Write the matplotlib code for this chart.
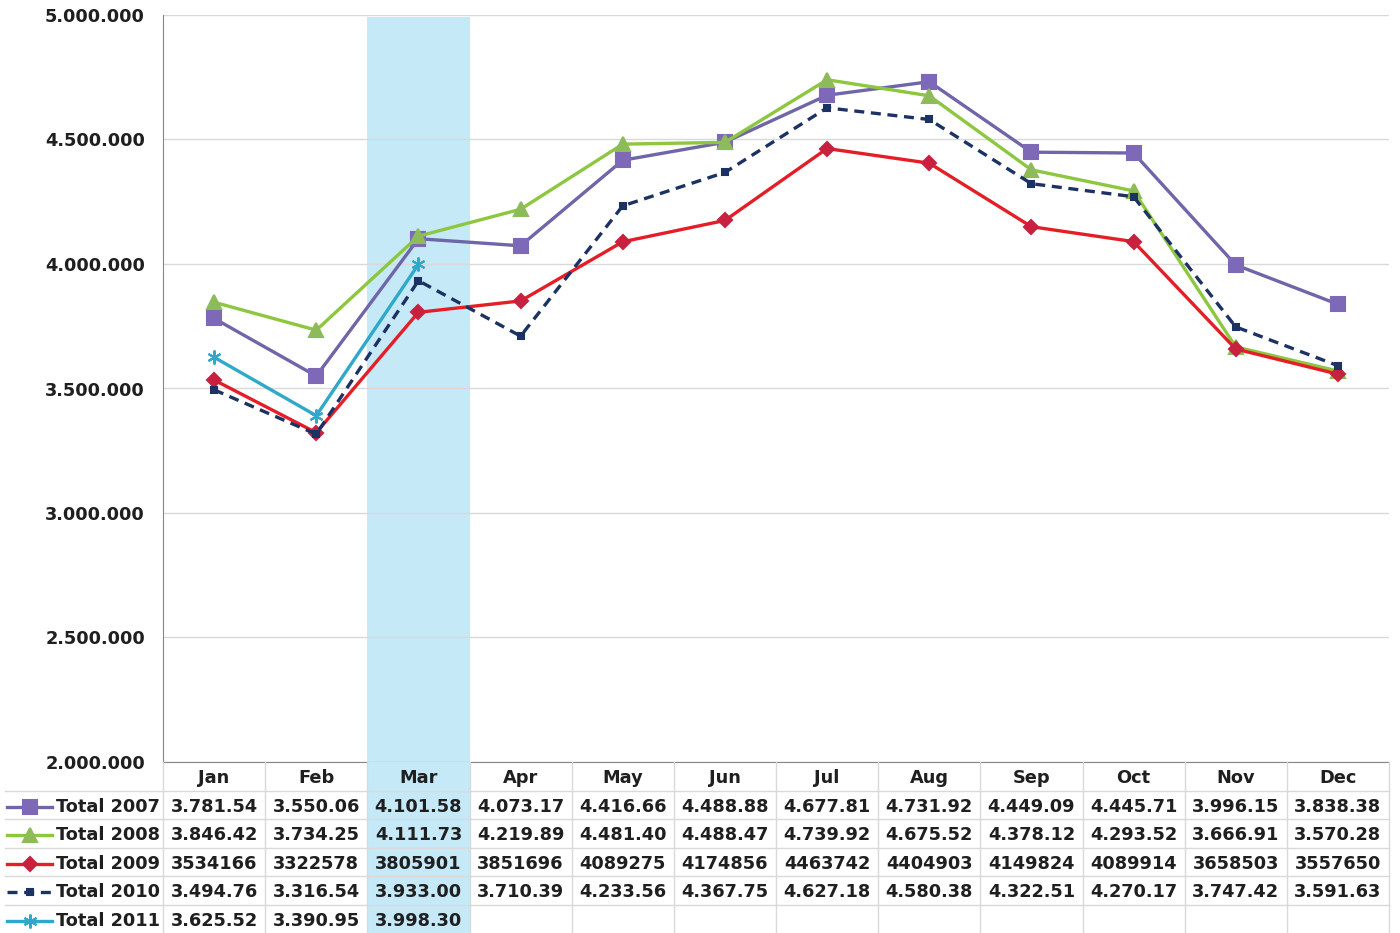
import matplotlib.pyplot as plt
from matplotlib.ticker import FuncFormatter

months = ['Jan', 'Feb', 'Mar', 'Apr', 'May', 'Jun', 'Jul', 'Aug', 'Sep', 'Oct', 'Nov', 'Dec']
series_names = ['Total 2007', 'Total 2008', 'Total 2009', 'Total 2010', 'Total 2011']

total_2007 = [3781540, 3550060, 4101580, 4073170, 4416660, 4488880,
              4677810, 4731920, 4449090, 4445710, 3996150, 3838380]
total_2008 = [3846420, 3734250, 4111730, 4219890, 4481400, 4488470,
              4739920, 4675520, 4378120, 4293520, 3666910, 3570280]
total_2009 = [3534166, 3322578, 3805901, 3851696, 4089275, 4174856,
              4463742, 4404903, 4149824, 4089914, 3658503, 3557650]
total_2010 = [3494760, 3316540, 3933000, 3710390, 4233560, 4367750,
              4627180, 4580380, 4322510, 4270170, 3747420, 3591630]
total_2011 = [3625520, 3390950, 3998300]

# table text exactly as shown in the source
table_rows = [
    ['3.781.54', '3.550.06', '4.101.58', '4.073.17', '4.416.66', '4.488.88',
     '4.677.81', '4.731.92', '4.449.09', '4.445.71', '3.996.15', '3.838.38'],
    ['3.846.42', '3.734.25', '4.111.73', '4.219.89', '4.481.40', '4.488.47',
     '4.739.92', '4.675.52', '4.378.12', '4.293.52', '3.666.91', '3.570.28'],
    ['3534166', '3322578', '3805901', '3851696', '4089275', '4174856',
     '4463742', '4404903', '4149824', '4089914', '3658503', '3557650'],
    ['3.494.76', '3.316.54', '3.933.00', '3.710.39', '4.233.56', '4.367.75',
     '4.627.18', '4.580.38', '4.322.51', '4.270.17', '3.747.42', '3.591.63'],
    ['3.625.52', '3.390.95', '3.998.30'],
]

highlight = 2  # Mar

styles = [
    dict(color='#6E66A8', marker='s', ms=10, mfc='#7E68B8', mec='#7E68B8', ls='-'),
    dict(color='#8DC63F', marker='^', ms=10, mfc='#8DBB5A', mec='#8DBB5A', ls='-'),
    dict(color='#E41E26', marker='D', ms=7, mfc='#C8203F', mec='#C8203F', ls='-'),
    dict(color='#1B3262', marker='s', ms=5, mfc='#1B3262', mec='#1B3262', ls=(0, (3, 2))),
    dict(color='#2EA9C9', marker=(6, 2, 0), ms=10, mfc='#2EA9C9', mec='#2EA9C9', ls='-'),
]
series = [total_2007, total_2008, total_2009, total_2010, total_2011]

plt.rcParams['font.family'] = 'DejaVu Sans'
plt.rcParams['font.weight'] = 'bold'

W, H = 1400, 933
fig = plt.figure(figsize=(W / 100, H / 100), dpi=100)

left, right, top, bottom = 163, 1389, 15, 762
ax = fig.add_axes([left / W, 1 - bottom / H, (right - left) / W, (bottom - top) / H])

grid_c = '#D9D9D9'
band_c = '#C6E9F8'
txt_c = '#1F1F1F'

ax.axvspan(highlight - 0.5, highlight + 0.5, ymax=0.997, color=band_c, zorder=0, lw=0)
for s, st in zip(series, styles):
    x = list(range(len(s)))
    ax.plot(x, s, color=st['color'], lw=2.4, ls=st['ls'], marker=st['marker'],
            ms=st['ms'], mfc=st['mfc'], mec=st['mec'], mew=1.5, zorder=3)

ax.set_xlim(-0.5, 11.5)
ax.set_ylim(2000000, 5000000)
ax.set_yticks(range(2000000, 5000001, 500000))
ax.yaxis.set_major_formatter(FuncFormatter(lambda v, p: f'{int(v):,}'.replace(',', '.')))
ax.set_xticks([])
ax.yaxis.grid(True, color=grid_c, lw=1)
ax.set_axisbelow(True)
for sp in ['top', 'right']:
    ax.spines[sp].set_visible(False)
ax.spines['left'].set_color('#868686')
ax.spines['bottom'].set_color('#868686')
ax.tick_params(axis='y', length=0, pad=13, labelsize=12.8, labelcolor=txt_c)

# data table under the chart, in pixel coordinates
tab = fig.add_axes([0, 0, 1, 1])
tab.set_xlim(0, W)
tab.set_ylim(H, 0)
tab.axis('off')

col_w = (right - left) / 12
row_h = (H - bottom) / 6
tab.axvspan(left + highlight * col_w, left + (highlight + 1) * col_w,
            ymin=0, ymax=1 - bottom / H, color=band_c, lw=0, zorder=0)

for i in range(13):
    xv = left + i * col_w
    tab.plot([xv, xv], [bottom, H], color=grid_c, lw=1, zorder=1)
for r in range(1, 6):
    yv = bottom + r * row_h
    tab.plot([5, right], [yv, yv], color=grid_c, lw=1, zorder=1)

dy = 2
for i, m in enumerate(months):
    tab.text(left + (i + 0.5) * col_w, bottom + 0.5 * row_h + dy, m, ha='center',
             va='center', fontsize=12.8, fontweight='bold', color=txt_c)

for r, (name, vals, st) in enumerate(zip(series_names, table_rows, styles)):
    yc = bottom + (r + 1.5) * row_h + dy
    tab.plot([7, 52], [yc, yc], color=st['color'], lw=2.4, ls=st['ls'], zorder=2)
    tab.plot([29.5], [yc], marker=st['marker'], ms=st['ms'], mfc=st['mfc'],
             mec=st['mec'], mew=1.5, ls='none', zorder=3)
    tab.text(56, yc, name, ha='left', va='center', fontsize=12.8,
             fontweight='bold', color=txt_c)
    for i, v in enumerate(vals):
        tab.text(left + (i + 0.5) * col_w, yc, v, ha='center', va='center',
                 fontsize=12.8, fontweight='bold', color=txt_c)

fig.savefig('out.png', dpi=100)
